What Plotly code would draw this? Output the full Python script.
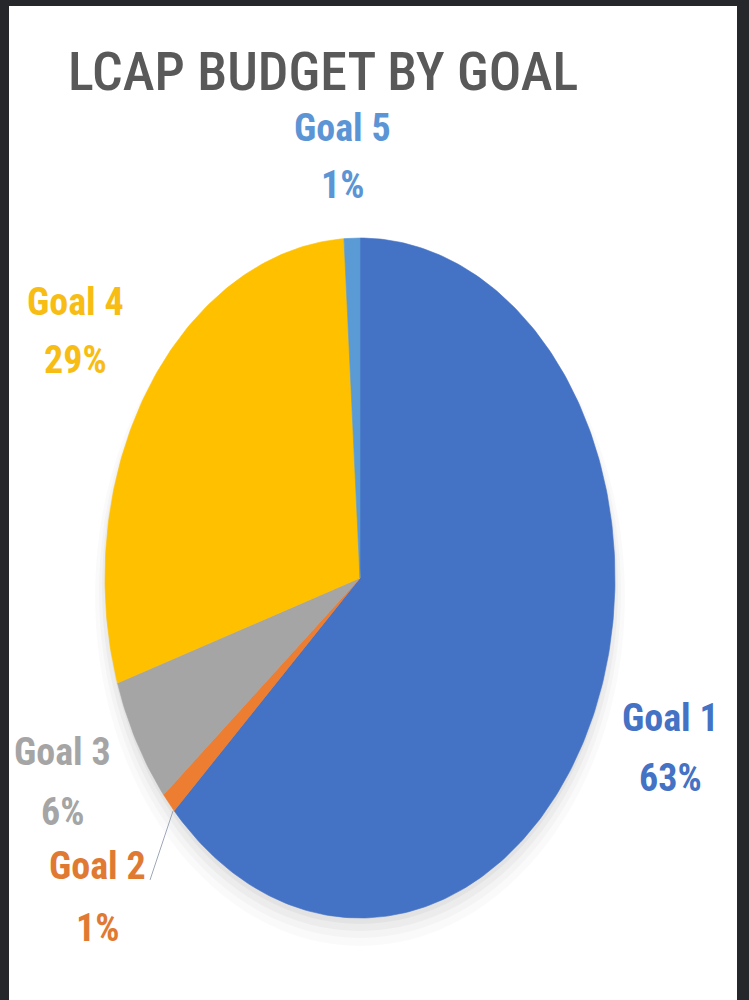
import numpy as np
import plotly.graph_objects as go

# ---- data ----
goals = ["Goal 1", "Goal 2", "Goal 3", "Goal 4", "Goal 5"]
values = [63, 1, 6, 29, 1]
slice_colors = ["#4472C4", "#ED7D31", "#A5A5A5", "#FFC000", "#5B9BD5"]
label_colors = ["#4472C4", "#E07A32", "#A5A5A5", "#F7BD14", "#5B95D5"]
title_text = "LCAP BUDGET BY GOAL"

# ---- layout geometry (pixel-like axis units) ----
W, H = 749, 1000
CX, CY, RX, RY = 360, 578, 255, 340
label_pos = {  # x, y of name line, y of percent line
    "Goal 1": (670, 718, 778),
    "Goal 2": (97, 866, 928),
    "Goal 3": (62, 752, 812),
    "Goal 4": (75, 302, 360),
    "Goal 5": (342, 128, 185),
}
FONT = "Liberation Sans Narrow, Arial Narrow, Roboto Condensed, Open Sans, sans-serif"

fig = go.Figure()

# soft shadow under the pie (mostly below)
for grow, dy, a in [(10, 18, 0.02), (6, 14, 0.025), (3, 10, 0.03), (0, 6, 0.035)]:
    fig.add_shape(type="circle", xref="x", yref="y", layer="below",
                  x0=CX - RX - grow, x1=CX + RX + grow,
                  y0=CY - RY - grow + dy, y1=CY + RY + grow + dy,
                  fillcolor=f"rgba(0,0,0,{a})", line=dict(width=0))

total = sum(values)
cum = 0
for g, v, c in zip(goals, values, slice_colors):
    f0, f1 = cum / total, (cum + v) / total
    th = np.linspace(f0, f1, max(int(v * 4), 12)) * 2 * np.pi
    xs = np.concatenate([[CX], CX + RX * np.sin(th), [CX]])
    ys = np.concatenate([[CY], CY - RY * np.cos(th), [CY]])
    fig.add_trace(go.Scatter(x=xs, y=ys, mode="lines", fill="toself",
                             fillcolor=c, line=dict(width=0.6, color=c),
                             name=g, hoverinfo="text",
                             text=f"{g}: {v / total * 100:.0f}%",
                             showlegend=False))
    cum += v

# labels
for g, v, lc in zip(goals, values, label_colors):
    x, yn, yp = label_pos[g]
    fig.add_annotation(x=x, y=yn, xref="x", yref="y", text=f"<b>{g}</b>",
                       showarrow=False, xanchor="center", yanchor="middle",
                       font=dict(size=38, color=lc, family=FONT))
    fig.add_annotation(x=x, y=yp, xref="x", yref="y",
                       text=f"<b>{v / total * 100:.0f}%</b>",
                       showarrow=False, xanchor="center", yanchor="middle",
                       font=dict(size=38, color=lc, family=FONT))

# leader line for Goal 2
fig.add_shape(type="line", xref="x", yref="y", x0=150, y0=880, x1=173, y1=811,
              line=dict(color="#9FA8B8", width=1))

# title
fig.add_annotation(x=323, y=71, xref="x", yref="y", text=title_text,
                   showarrow=False, xanchor="center", yanchor="middle",
                   font=dict(size=54, color="#595959", family=FONT, weight=500))

# dark frame
for x0, x1, y0, y1 in [(0, 9, 0, H), (737, W, 0, H), (0, W, 0, 6)]:
    fig.add_shape(type="rect", xref="x", yref="y", x0=x0, x1=x1, y0=y0, y1=y1,
                  fillcolor="#25272b", line=dict(width=0), layer="above")

fig.update_xaxes(range=[0, W], visible=False, fixedrange=True)
fig.update_yaxes(range=[H, 0], visible=False, fixedrange=True)
fig.update_layout(width=W, height=H, margin=dict(l=0, r=0, t=0, b=0),
                  paper_bgcolor="white", plot_bgcolor="white",
                  showlegend=False)

fig.write_html("out.html")
